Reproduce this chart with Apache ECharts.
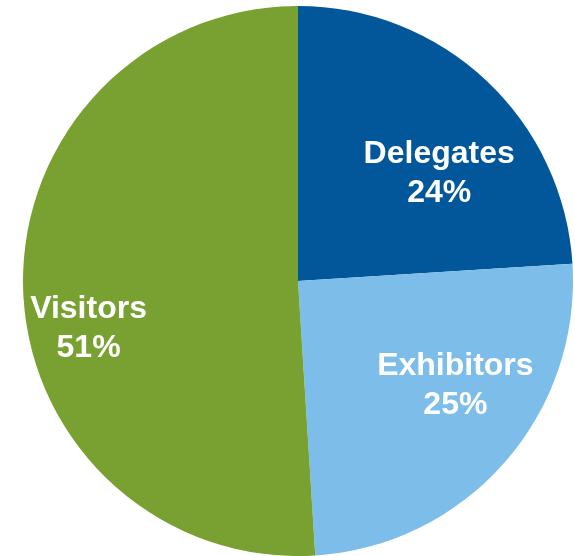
<!DOCTYPE html>
<html>
<head>
<meta charset="utf-8">
<script src="https://cdn.jsdelivr.net/npm/echarts@6/dist/echarts.min.js"></script>
<style>
html,body{margin:0;padding:0;background:#fff;}
#chart{width:575px;height:556px;}
</style>
</head>
<body>
<div id="chart"></div>
<script>
const categories = ['Delegates', 'Exhibitors', 'Visitors'];
const values = [24, 25, 51];
const colors = ['#01579a', '#7cbde9', '#78a131'];
const labelShift = [[45, -5], [52, 12], [-69, 43]];

const chart = echarts.init(document.getElementById('chart'), null, {renderer: 'canvas'});
chart.setOption({
  animation: false,
  series: [{
    type: 'pie',
    center: [298, 281],
    radius: 275,
    startAngle: 90,
    clockwise: true,
    percentPrecision: 0,
    data: categories.map((c, i) => ({name: c, value: values[i], itemStyle: {color: colors[i]}})),
    itemStyle: {borderWidth: 0},
    label: {
      show: true,
      position: 'inside',
      formatter: '{b}\n{d}%',
      color: '#ffffff',
      fontFamily: '"Liberation Sans", Arial, sans-serif',
      fontWeight: 'bold',
      fontSize: 32,
      lineHeight: 39,
      align: 'center'
    },
    labelLine: {show: false},
    labelLayout: function (p) {
      const s = labelShift[p.dataIndex];
      return {dx: s[0], dy: s[1]};
    },
    emphasis: {disabled: true}
  }]
});
</script>
</body>
</html>
